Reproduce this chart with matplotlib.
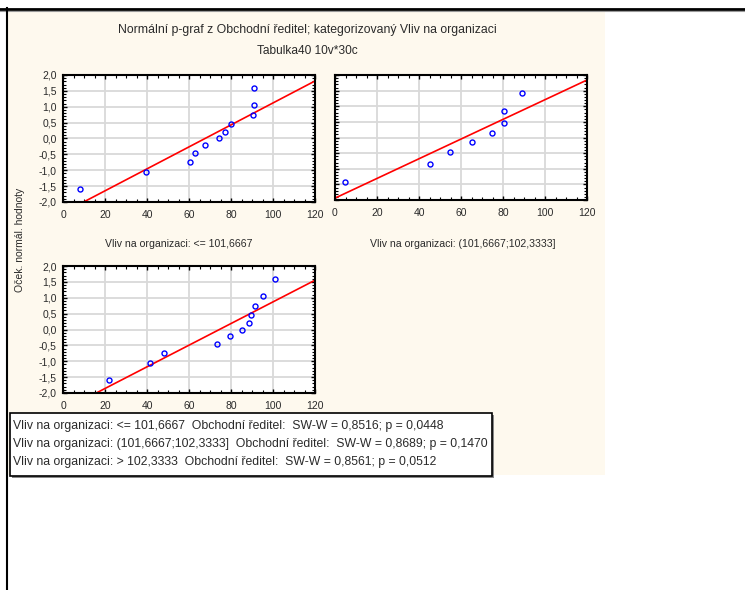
import matplotlib
matplotlib.use("Agg")
from matplotlib import pyplot as plt
from matplotlib.patches import Rectangle
from matplotlib.lines import Line2D
from matplotlib.ticker import MultipleLocator, FuncFormatter

plt.rcParams["font.family"] = ["Liberation Sans", "DejaVu Sans"]

# values
x1 = [7.9, 39.7, 60.7, 62.8, 67.6, 74.2, 77.1, 79.8, 90.3, 91.1, 91.1]
y1 = [-1.59, -1.06, -0.73, -0.46, -0.22, 0.0, 0.22, 0.46, 0.73, 1.06, 1.59]
x2 = [4.8, 45.3, 54.8, 65.3, 74.7, 80.3, 80.3, 89.0]
y2 = [-1.43, -0.85, -0.47, -0.15, 0.15, 0.47, 0.85, 1.43]
x3 = [22.0, 41.5, 48.2, 73.4, 79.4, 85.3, 88.7, 89.3, 91.6, 95.1, 100.8]
y3 = [-1.59, -1.06, -0.73, -0.46, -0.22, 0.0, 0.22, 0.46, 0.73, 1.06, 1.59]
# fitted lines: intercept, slope
fit1 = (-2.34, 0.0346)
fit2 = (-1.94, 0.0315)
fit3 = (-2.54, 0.0341)

title = "Normální p-graf z Obchodní ředitel; kategorizovaný Vliv na organizaci"
subtitle = "Tabulka40 10v*30c"
panel_labels = ["Vliv na organizaci: <= 101,6667", "Vliv na organizaci: (101,6667;102,3333]"]
ylabel = "Oček. normál. hodnoty"
stats = [
    "Vliv na organizaci: <= 101,6667  Obchodní ředitel:  SW-W = 0,8516; p = 0,0448",
    "Vliv na organizaci: (101,6667;102,3333]  Obchodní ředitel:  SW-W = 0,8689; p = 0,1470",
    "Vliv na organizaci: > 102,3333  Obchodní ředitel:  SW-W = 0,8561; p = 0,0512",
]

W, H = 745, 590
fig = plt.figure(figsize=(W / 100, H / 100), dpi=100)
fig.patch.set_facecolor("white")
txt = "#2a2a2a"


def box(x0, y0, x1_, y1_):
    return [x0 / W, 1 - y1_ / H, (x1_ - x0) / W, (y1_ - y0) / H]


# cream background panel
fig.add_artist(Rectangle((8 / W, 1 - 475 / H), 597 / W, 465 / H, transform=fig.transFigure,
                         facecolor="#fef9ee", edgecolor="none", zorder=0))
# page borders
fig.add_artist(Line2D([0, 1], [1 - 8.5 / H] * 2, transform=fig.transFigure, color="black", lw=2))
fig.add_artist(Line2D([0, 1], [1 - 10.5 / H] * 2, transform=fig.transFigure, color="#999999", lw=0.8))
fig.add_artist(Line2D([7 / W] * 2, [0, 1 - 8 / H], transform=fig.transFigure, color="black", lw=1.5))

fig.text(307 / W, 1 - 30.5 / H, title, ha="center", va="center", fontsize=8.8, color=txt)
fig.text(307 / W, 1 - 51.5 / H, subtitle, ha="center", va="center", fontsize=8.6, color=txt)


def panel(rect, xs, ys, fit, show_y=True):
    ax = fig.add_axes(rect)
    ax.set_facecolor("white")
    ax.set_xlim(0, 120)
    ax.set_ylim(-2, 2)
    ax.xaxis.set_major_locator(MultipleLocator(20))
    ax.xaxis.set_minor_locator(MultipleLocator(5))
    ax.yaxis.set_major_locator(MultipleLocator(0.5))
    ax.yaxis.set_minor_locator(MultipleLocator(0.1))
    ax.yaxis.set_major_formatter(FuncFormatter(lambda v, p: f"{v:.1f}".replace(".", ",")))
    ax.grid(True, which="major", color="#d9d9d9", lw=1.3)
    ax.set_axisbelow(True)
    ax.tick_params(which="both", direction="in", top=True, right=True, color="black",
                   labelsize=7.5, labelcolor=txt)
    ax.tick_params(axis="x", pad=6)
    ax.tick_params(axis="y", pad=4.5)
    ax.tick_params(which="major", length=3, width=1)
    ax.tick_params(which="minor", length=2, width=0.8)
    if not show_y:
        ax.tick_params(axis="y", labelleft=False)
    for s in ax.spines.values():
        s.set_linewidth(1.5)
    ax.axline((0, fit[0]), slope=fit[1], color="red", lw=1.2, zorder=2)
    ax.plot(xs, ys, linestyle="none", marker="o", ms=3.6, mfc="none", mec="blue", mew=1, zorder=3)
    return ax


panel(box(63, 75, 315, 202), x1, y1, fit1)
panel(box(335, 75, 587, 200), x2, y2, fit2, show_y=False)
panel(box(63, 266, 315, 393), x3, y3, fit3)

fig.text(179 / W, 1 - 244 / H, panel_labels[0], ha="center", va="center", fontsize=7.6, color=txt)
fig.text(463 / W, 1 - 244 / H, panel_labels[1], ha="center", va="center", fontsize=7.6, color=txt)
fig.text(20 / W, 1 - 240 / H, ylabel, ha="center", va="center", rotation=90, fontsize=7.5, color=txt)

# statistics box
fig.add_artist(Rectangle((12 / W, 1 - 478 / H), 482 / W, 63 / H, transform=fig.transFigure,
                         facecolor="#888888", edgecolor="none", zorder=3))
fig.add_artist(Rectangle((10 / W, 1 - 476 / H), 482 / W, 63 / H, transform=fig.transFigure,
                         facecolor="white", edgecolor="black", lw=1.2, zorder=4))
for i, s in enumerate(stats):
    fig.text(13 / W, 1 - (426 + 18 * i) / H, s, ha="left", va="center", fontsize=8.8,
             color=txt, zorder=5)

fig.savefig("out.png", dpi=100)
